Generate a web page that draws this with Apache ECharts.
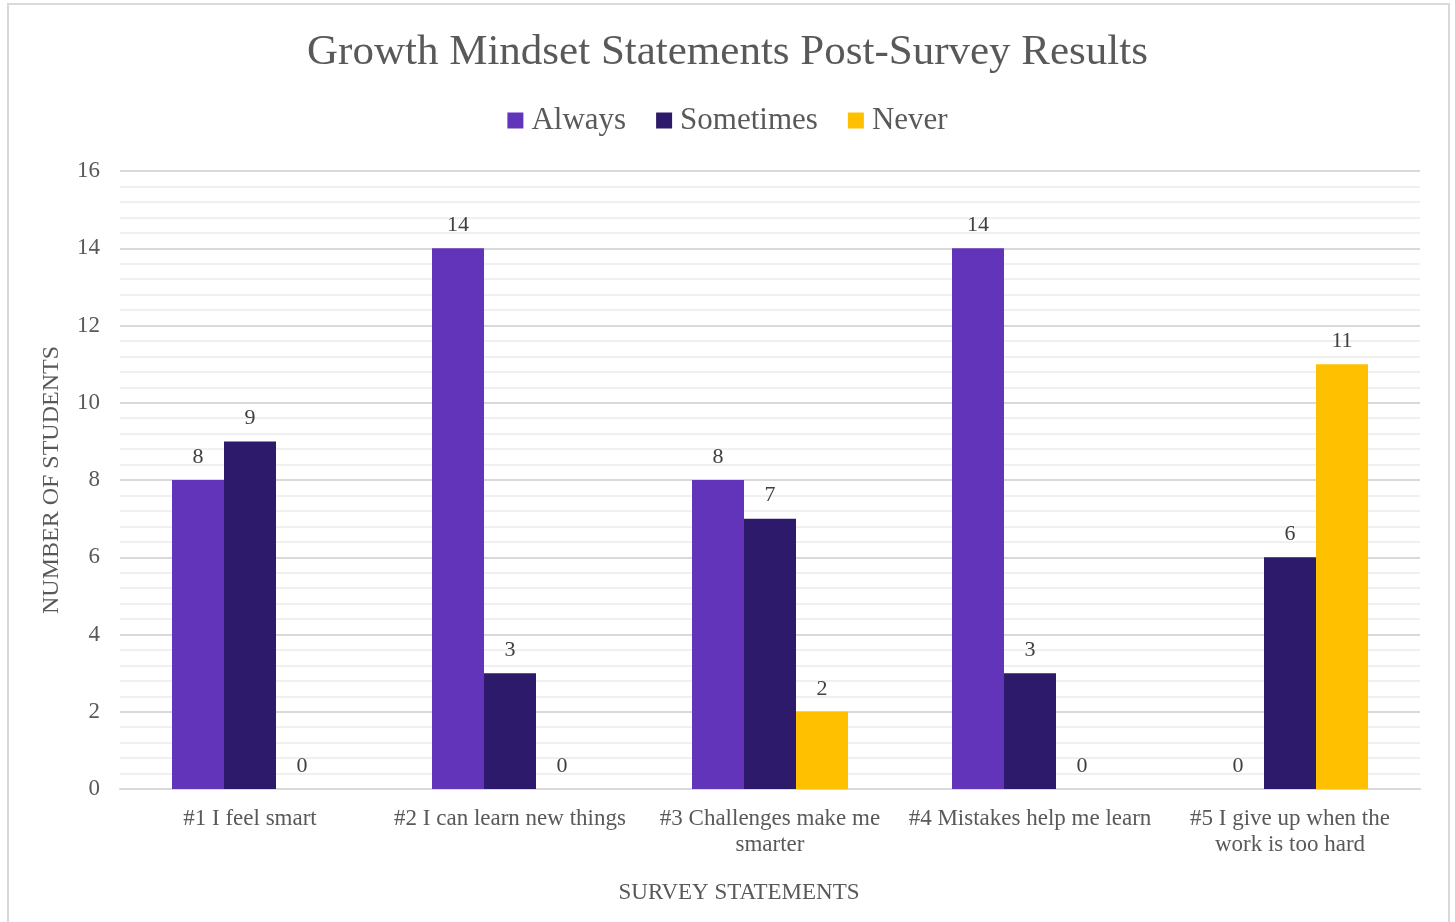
<!DOCTYPE html>
<html>
<head>
<meta charset="utf-8">
<script src="https://cdn.jsdelivr.net/npm/echarts@6/dist/echarts.min.js"></script>
<style>
html,body{margin:0;padding:0;background:#fff;}
#main{width:1455px;height:922px;}
</style>
</head>
<body>
<div id="main"></div>
<script>
const categories = [
  '#1 I feel smart',
  '#2 I can learn new things',
  '#3 Challenges make me\nsmarter',
  '#4 Mistakes help me learn',
  '#5 I give up when the\nwork is too hard'
];
const seriesNames = ['Always', 'Sometimes', 'Never'];
const always = [8, 14, 8, 14, 0];
const sometimes = [9, 3, 7, 3, 6];
const never = [0, 0, 2, 0, 11];
const yTicks = [0, 2, 4, 6, 8, 10, 12, 14, 16];

const FONT = '"Liberation Serif", "Times New Roman", serif';
const colors = ['#6234BA', '#2E1A6A', '#FFC000'];
const values = [always, sometimes, never];

const chart = echarts.init(document.getElementById('main'));
chart.setOption({
  animation: false,
  textStyle: { fontFamily: FONT },
  graphic: [{
    type: 'rect',
    shape: { x: 8, y: 4, width: 1441, height: 940 },
    style: { fill: 'none', stroke: '#d9d9d9', lineWidth: 2 },
    silent: true
  }],
  title: {
    text: 'Growth Mindset Statements Post-Survey Results',
    left: 'center',
    top: 26,
    textStyle: { fontFamily: FONT, fontSize: 43, fontWeight: 'normal', color: '#595959' }
  },
  legend: {
    data: seriesNames,
    top: 100,
    left: 'center',
    icon: 'rect',
    itemWidth: 16,
    itemHeight: 16,
    itemGap: 30,
    textStyle: { fontFamily: FONT, fontSize: 31, color: '#595959', padding: [0, 0, 0, 3] }
  },
  grid: { left: 120, right: 35, top: 171, bottom: 133, containLabel: false },
  xAxis: {
    type: 'category',
    data: categories,
    name: 'SURVEY STATEMENTS',
    nameLocation: 'middle',
    nameGap: 92,
    nameTextStyle: { fontFamily: FONT, fontSize: 23, color: '#595959', padding: [0, 62, 0, 0] },
    axisLine: { lineStyle: { color: '#d9d9d9', width: 2 } },
    axisTick: { show: false },
    axisLabel: { fontFamily: FONT, fontSize: 23, color: '#595959', margin: 17, lineHeight: 26, interval: 0 },
    splitLine: { show: false }
  },
  yAxis: {
    type: 'value',
    min: yTicks[0],
    max: yTicks[yTicks.length - 1],
    interval: 2,
    name: 'NUMBER OF STUDENTS',
    nameLocation: 'middle',
    nameGap: 56,
    nameRotate: 90,
    nameTextStyle: { fontFamily: FONT, fontSize: 24, color: '#595959' },
    axisLine: { show: false },
    axisTick: { show: false },
    axisLabel: { fontFamily: FONT, fontSize: 23, color: '#595959', margin: 20 },
    splitLine: { lineStyle: { color: '#d9d9d9', width: 2 } },
    minorTick: { show: false, splitNumber: 5 },
    minorSplitLine: { show: true, lineStyle: { color: '#f0f0f0', width: 2 } }
  },
  series: seriesNames.map((n, i) => ({
    name: n,
    type: 'bar',
    data: values[i],
    barGap: '0%',
    barCategoryGap: '40%',
    itemStyle: { color: colors[i] },
    label: {
      show: true,
      position: 'top',
      distance: 12,
      fontFamily: FONT,
      fontSize: 22,
      color: '#404040'
    }
  }))
});
</script>
</body>
</html>
